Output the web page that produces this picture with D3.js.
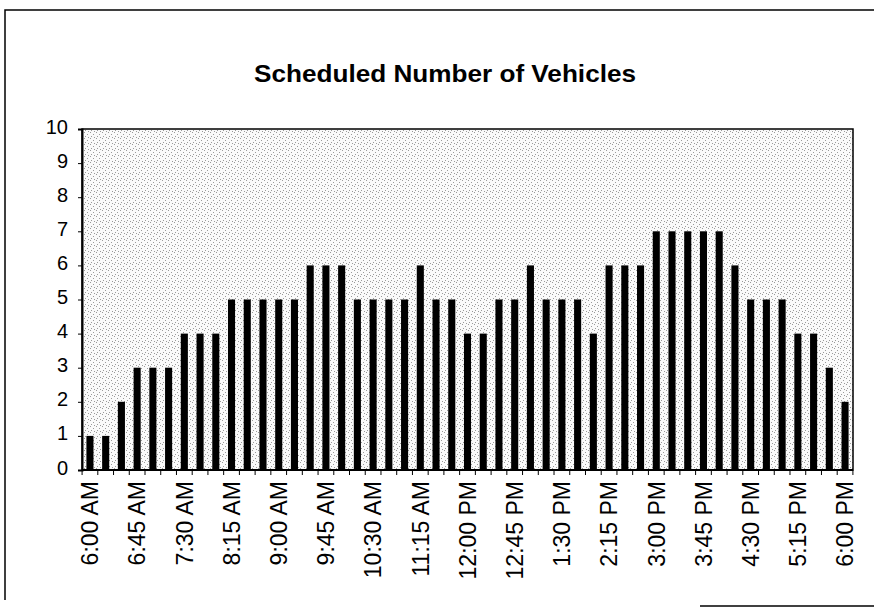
<!DOCTYPE html>
<html>
<head>
<meta charset="utf-8">
<script src="https://cdnjs.cloudflare.com/ajax/libs/d3/7.8.5/d3.min.js"></script>
<style>
  body { margin: 0; background: #fff; }
  svg text { font-family: "Liberation Sans", Arial, sans-serif; fill: #000; }
</style>
</head>
<body>
<div id="chart"></div>
<script>
// times every 15 minutes, 6:00 AM .. 6:00 PM
var times = ["6:00 AM","6:15 AM","6:30 AM","6:45 AM","7:00 AM","7:15 AM","7:30 AM","7:45 AM",
  "8:00 AM","8:15 AM","8:30 AM","8:45 AM","9:00 AM","9:15 AM","9:30 AM","9:45 AM",
  "10:00 AM","10:15 AM","10:30 AM","10:45 AM","11:00 AM","11:15 AM","11:30 AM","11:45 AM",
  "12:00 PM","12:15 PM","12:30 PM","12:45 PM","1:00 PM","1:15 PM","1:30 PM","1:45 PM",
  "2:00 PM","2:15 PM","2:30 PM","2:45 PM","3:00 PM","3:15 PM","3:30 PM","3:45 PM",
  "4:00 PM","4:15 PM","4:30 PM","4:45 PM","5:00 PM","5:15 PM","5:30 PM","5:45 PM","6:00 PM"];

var vehicles = [1,1,2,3,3,3,4,4,4,5,5,5,5,5,6,6,6,5,5,5,5,6,5,5,
  4,4,5,5,6,5,5,5,4,6,6,6,7,7,7,7,7,6,5,5,5,4,4,3,2];

var yTicks = [0,1,2,3,4,5,6,7,8,9,10];

var title = "Scheduled Number of Vehicles";

var width = 874, height = 609;
var plotLeft = 82, plotRight = 853, plotTop = 129, plotBottom = 470;

var svg = d3.select("#chart").append("svg")
    .attr("width", width)
    .attr("height", height);

// stippled background for the plot area
var defs = svg.append("defs");
var pat = defs.append("pattern")
    .attr("id", "stipple")
    .attr("patternUnits", "userSpaceOnUse")
    .attr("width", 6).attr("height", 6);
pat.append("rect").attr("width", 6).attr("height", 6).attr("fill", "#fafafa");
[[0,0],[3,2],[1,4],[4,5]].forEach(function(p){
  pat.append("rect").attr("x", p[0]).attr("y", p[1]).attr("width", 1).attr("height", 1).attr("fill", "#9a9a9a");
});

// outer frame (partly visible as in the scan)
svg.append("path")
    .attr("d", "M5,600 L5,10 L874,10")
    .attr("fill", "none").attr("stroke", "#000").attr("stroke-width", 1.5);
svg.append("line")
    .attr("x1", 700).attr("x2", 874).attr("y1", 606).attr("y2", 606)
    .attr("stroke", "#000").attr("stroke-width", 1.5);

var x = d3.scaleBand()
    .domain(times)
    .range([plotLeft, plotRight])
    .paddingInner(0.55)
    .paddingOuter(0.28);

var y = d3.scaleLinear()
    .domain([0, 10])
    .range([plotBottom, plotTop]);

svg.append("rect")
    .attr("x", plotLeft).attr("y", plotTop)
    .attr("width", plotRight - plotLeft).attr("height", plotBottom - plotTop)
    .attr("fill", "url(#stipple)");

// bars
svg.append("g")
  .selectAll("rect")
  .data(vehicles)
  .enter()
  .append("rect")
    .attr("x", function(d, i){ return x(times[i]); })
    .attr("y", function(d){ return y(d); })
    .attr("width", x.bandwidth())
    .attr("height", function(d){ return y(0) - y(d); })
    .attr("fill", "#000");

// plot frame
svg.append("rect")
    .attr("x", plotLeft).attr("y", plotTop)
    .attr("width", plotRight - plotLeft).attr("height", plotBottom - plotTop)
    .attr("fill", "none").attr("stroke", "#000").attr("stroke-width", 1.5);

// y axis
var yAxis = svg.append("g")
    .attr("transform", "translate(" + plotLeft + ",0)")
    .call(d3.axisLeft(y).tickValues(yTicks).tickSize(4).tickPadding(10));
yAxis.select(".domain").attr("stroke-width", 2);
yAxis.selectAll("text").attr("font-size", 20).attr("dy", "0.2em");

// x axis: ticks at band boundaries, labels every third slot
var step = x.step();
var x0 = x(times[0]) - x.paddingInner() * step / 2;
svg.append("g")
  .selectAll("line")
  .data(d3.range(times.length + 1))
  .enter()
  .append("line")
    .attr("x1", function(i){ return x0 + i * step; })
    .attr("x2", function(i){ return x0 + i * step; })
    .attr("y1", plotBottom).attr("y2", plotBottom + 5)
    .attr("stroke", "#000");

svg.append("line")
    .attr("x1", plotLeft).attr("x2", plotRight)
    .attr("y1", plotBottom).attr("y2", plotBottom)
    .attr("stroke", "#000").attr("stroke-width", 2);

svg.append("g")
  .selectAll("text")
  .data(times.filter(function(t, i){ return i % 3 === 0; }))
  .enter()
  .append("text")
    .attr("transform", function(t){
      return "translate(" + (x(t) + x.bandwidth() / 2) + "," + (plotBottom + 11) + ") rotate(-90)";
    })
    .attr("text-anchor", "end")
    .attr("dy", "0.36em")
    .attr("font-size", 23)
    .text(function(t){ return t; });

// title
svg.append("text")
    .attr("x", 445).attr("y", 82)
    .attr("text-anchor", "middle")
    .attr("font-size", 24)
    .attr("font-weight", "bold")
    .attr("textLength", 382)
    .attr("lengthAdjust", "spacingAndGlyphs")
    .text(title);
</script>
</body>
</html>
